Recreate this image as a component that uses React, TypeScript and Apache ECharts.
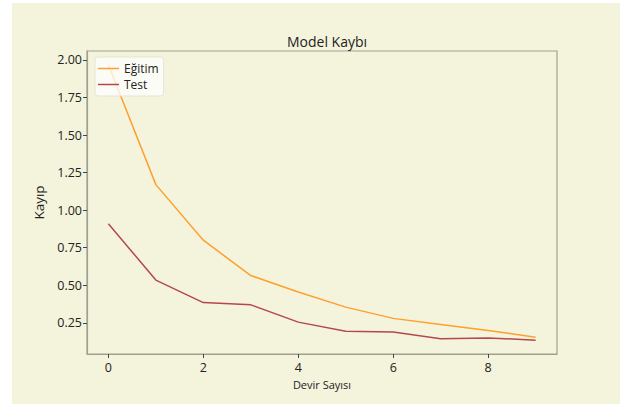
import React, { useEffect, useRef } from "react";
import * as echarts from "echarts";

const epochs = [0, 1, 2, 3, 4, 5, 6, 7, 8, 9];
const trainLoss = [1.967, 1.17, 0.8, 0.565, 0.455, 0.355, 0.28, 0.24, 0.2, 0.155];
const testLoss = [0.91, 0.535, 0.385, 0.37, 0.255, 0.195, 0.19, 0.145, 0.15, 0.135];
const xTicks = [0, 2, 4, 6, 8];
const yTicks = [0.25, 0.5, 0.75, 1.0, 1.25, 1.5, 1.75, 2.0];
const seriesNames = ["Eğitim", "Test"];

const FONT = "'Open Sans', 'Noto Sans', sans-serif";

export default function App() {
  const ref = useRef<HTMLDivElement>(null);
  useEffect(() => {
    if (!ref.current) return;
    const chart = echarts.init(ref.current, undefined, { renderer: "svg" });
    chart.setOption({
      animation: false,
      backgroundColor: "#ffffff",
      textStyle: { fontFamily: FONT },
      graphic: [
        {
          type: "rect",
          z: -10,
          silent: true,
          shape: { x: 12, y: 3, width: 608, height: 401 },
          style: { fill: "#f4f4dc" },
        },
      ],
      title: {
        text: "Model Kaybı",
        left: 322,
        textAlign: "center",
        top: 29,
        textStyle: { fontFamily: FONT, fontSize: 14, fontWeight: "normal", color: "#222" },
      },
      legend: {
        left: 95,
        top: 57,
        orient: "vertical",
        icon: "rect",
        itemWidth: 21,
        itemHeight: 1.5,
        itemGap: 3,
        padding: [5, 5, 5, 3],
        backgroundColor: "rgba(255,255,255,0.75)",
        borderColor: "#e4e4d8",
        borderWidth: 1,
        borderRadius: 3,
        textStyle: { fontFamily: FONT, fontSize: 12, lineHeight: 13, color: "#222" },
        data: seriesNames,
      },
      grid: {
        left: 87,
        right: 63,
        top: 51,
        bottom: 51,
        show: true,
        borderColor: "#a0a090",
        borderWidth: 1.2,
        backgroundColor: "transparent",
      },
      xAxis: {
        type: "value",
        min: -0.45,
        max: 9.45,
        name: "Devir Sayısı",
        nameLocation: "middle",
        nameGap: 23,
        nameTextStyle: { fontFamily: FONT, fontSize: 11, color: "#222" },
        axisLine: { show: true, onZero: false, lineStyle: { color: "#a0a090", width: 1.2 } },
        axisTick: { show: true, customValues: xTicks, length: 4, lineStyle: { color: "#444" } },
        axisLabel: {
          customValues: xTicks,
          fontFamily: FONT,
          fontSize: 12.5,
          color: "#222",
          margin: 7,
        },
        splitLine: { show: false },
      },
      yAxis: {
        type: "value",
        min: 0.043,
        max: 2.059,
        name: "Kayıp",
        nameLocation: "middle",
        nameGap: 38,
        nameRotate: 90,
        nameTextStyle: { fontFamily: FONT, fontSize: 13.5, color: "#222" },
        axisLine: { show: true, onZero: false, lineStyle: { color: "#a0a090", width: 1.2 } },
        axisTick: { show: true, customValues: yTicks, length: 4, lineStyle: { color: "#444" } },
        axisLabel: {
          customValues: yTicks,
          formatter: (v: number) => v.toFixed(2),
          fontFamily: FONT,
          fontSize: 12.5,
          color: "#222",
          margin: 5,
        },
        splitLine: { show: false },
      },
      series: [
        {
          name: seriesNames[0],
          type: "line",
          data: epochs.map((e, i) => [e, trainLoss[i]]),
          symbol: "none",
          lineStyle: { color: "#ff9f2e", width: 1.5 },
          itemStyle: { color: "#ff9f2e" },
        },
        {
          name: seriesNames[1],
          type: "line",
          data: epochs.map((e, i) => [e, testLoss[i]]),
          symbol: "none",
          lineStyle: { color: "#b5484c", width: 1.5 },
          itemStyle: { color: "#b5484c" },
        },
      ],
    });
    return () => chart.dispose();
  }, []);
  return (
    <div
      ref={ref}
      style={{ position: "fixed", left: 0, top: 0, width: 620, height: 405 }}
    />
  );
}
